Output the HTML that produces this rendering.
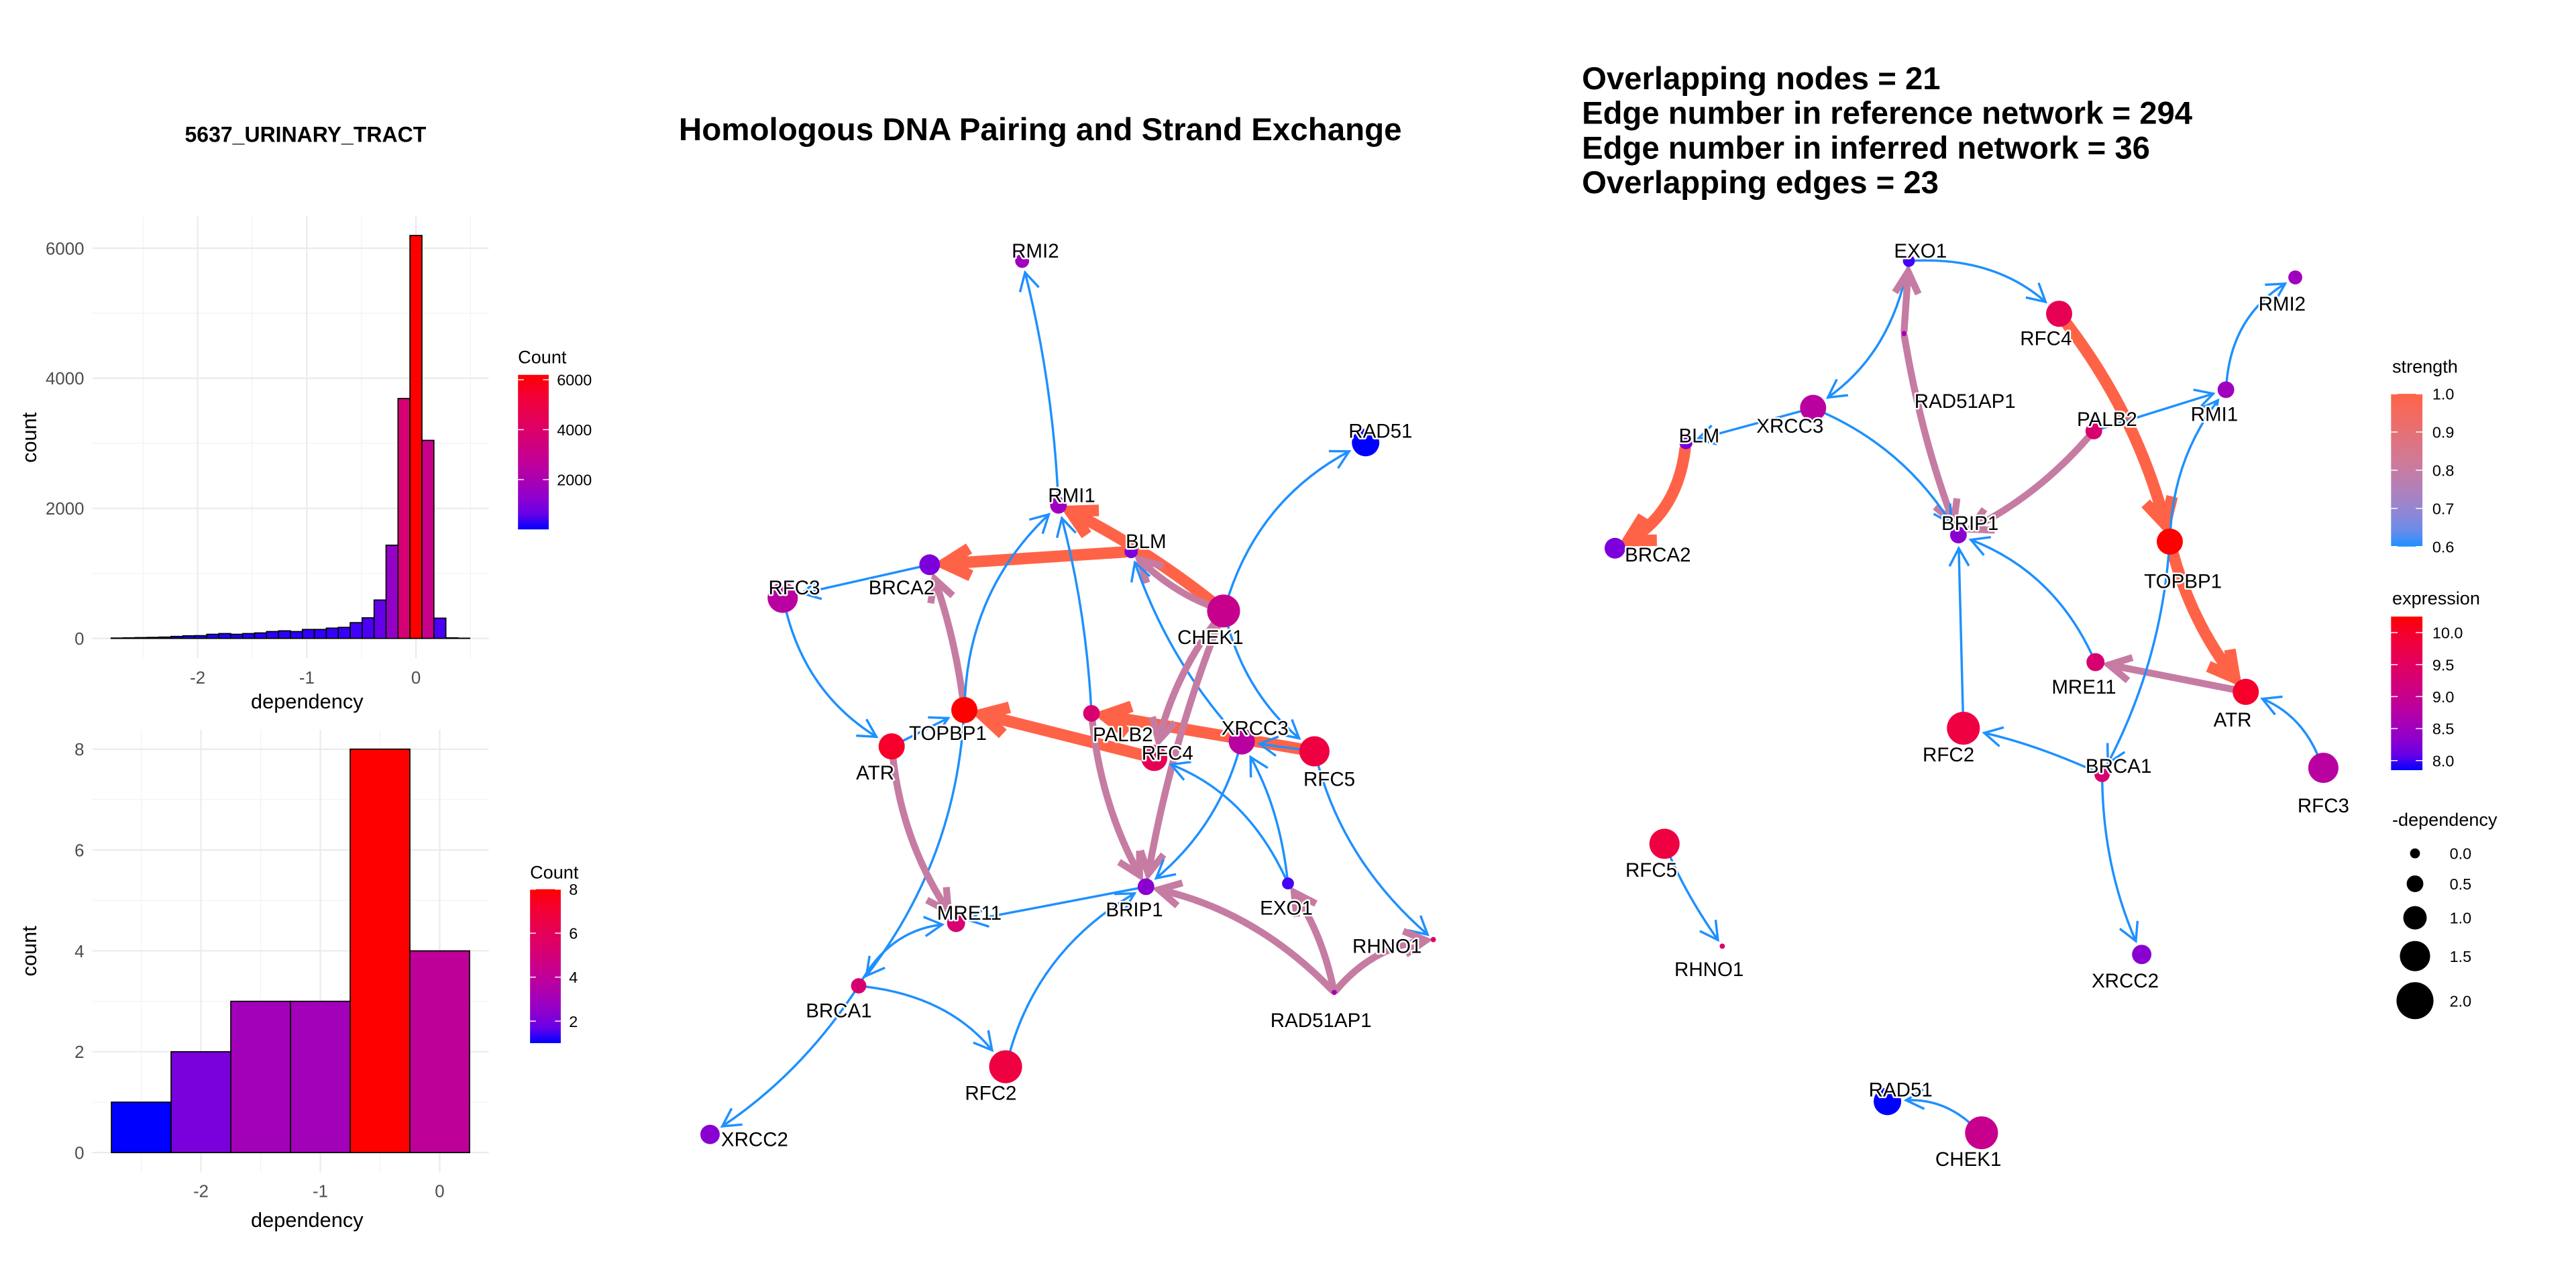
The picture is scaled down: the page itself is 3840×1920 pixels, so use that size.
<!DOCTYPE html>
<html><head><meta charset="utf-8">
<style>
html,body{margin:0;padding:0;background:#fff;}
svg{display:block;font-family:"Liberation Sans",Arial,sans-serif;}
.lbl{font-size:12px;fill:#000;stroke:#fff;stroke-width:2px;paint-order:stroke;stroke-linejoin:round;}
.tick{font-size:10.5px;fill:#4d4d4d;}
.axt{font-size:12.5px;fill:#000;}
.leg{font-size:9.5px;fill:#000;}
.legt{font-size:11px;fill:#000;}
</style></head>
<body>
<svg id="root" width="3840" height="1920" viewBox="0 0 1560 780" xmlns="http://www.w3.org/2000/svg">
<rect width="1560" height="780" fill="#fff"/>
<text x="185" y="86" text-anchor="middle" font-weight="bold" font-size="13">5637_URINARY_TRACT</text>
<text x="630" y="85" text-anchor="middle" font-weight="bold" font-size="19.3">Homologous DNA Pairing and Strand Exchange</text>
<g font-weight="bold" font-size="19.2">
<text x="958" y="54">Overlapping nodes = 21</text>
<text x="958" y="75">Edge number in reference network = 294</text>
<text x="958" y="96">Edge number in inferred network = 36</text>
<text x="958" y="117">Overlapping edges = 23</text>
</g>
<g id="h1"></g>
<g id="h2"></g>
<g id="n1"></g>
<g id="n2"></g>
<g id="lg"></g>
</svg>
<script>
// ---------- data ----------
const h1Counts = [5,8,12,15,20,30,40,42,63,74,63,74,84,105,116,105,137,137,158,169,242,316,590,1433,3688,6195,3045,311,8,3];
const h1XTicks = [-2,-1,0];
const h1YTicks = [0,2000,4000,6000];
const h1LegTicks = [2000,4000,6000];
const h2Centers = [-2.5,-2,-1.5,-1,-0.5,0];
const h2Counts = [1,2,3,3,8,4];
const h2XTicks = [-2,-1,0];
const h2YTicks = [0,2,4,6,8];
const h2LegTicks = [2,4,6,8];

const geneNames = ["RMI2","RMI1","BLM","RAD51","BRCA2","RFC3","CHEK1","TOPBP1","PALB2","ATR","RFC4","XRCC3","RFC5","MRE11","BRIP1","EXO1","RHNO1","RAD51AP1","BRCA1","RFC2","XRCC2"];
const geneExpr = [8.5,8.5,8.2,7.85,8.2,8.8,9.0,10.25,9.3,10.0,9.6,8.8,9.8,9.3,8.3,7.95,9.4,8.6,9.3,9.8,8.3];
const geneDep  = [0.3,0.5,0.25,1.3,0.8,1.5,1.7,1.2,0.5,1.2,1.2,1.2,1.5,0.6,0.5,0.15,-0.4,-0.4,0.4,1.7,0.7];

// middle network layout
const n1X = [619,641,685,827,563,474,741,584,661,540,699,752,796,579,694,780,868,808,520,609,430];
const n1Y = [158,306,334,268,342,362,370,430,432,452,459,449,455,559,537,535,569,601,597,646,687];
const n1LX = [627,649,694,836,546,481,733,574,680,530,707,760,805,587,687,779,840,800,508,600,457];
const n1LY = [152,300,328,261,356,356,386,444,445,468,456,441,472,553,551,550,573,618,612,662,690];
const n1From = ["RMI1","CHEK1","BLM","CHEK1","CHEK1","XRCC3","BRCA2","TOPBP1","TOPBP1","PALB2","RFC3","RFC4","RFC5","ATR","CHEK1","CHEK1","PALB2","CHEK1","RFC5","XRCC3","EXO1","EXO1","TOPBP1","ATR","BRIP1","BRCA1","BRCA1","RFC2","BRCA1","RFC5","RAD51AP1","RAD51AP1","RAD51AP1"];
const n1To   = ["RMI2","RAD51","BRCA2","RMI1","BLM","BLM","RFC3","BRCA2","RMI1","RMI1","ATR","TOPBP1","PALB2","TOPBP1","RFC4","BRIP1","BRIP1","RFC5","XRCC3","BRIP1","XRCC3","RFC4","BRCA1","MRE11","MRE11","MRE11","RFC2","BRIP1","XRCC2","RHNO1","BRIP1","EXO1","RHNO1"];
const n1Str  = [0.6,0.6,1.0,1.0,0.8,0.6,0.6,0.8,0.6,0.6,0.6,1.0,1.0,0.6,0.8,0.8,0.8,0.6,0.6,0.6,0.6,0.6,0.6,0.8,0.6,0.6,0.6,0.6,0.6,0.6,0.8,0.8,0.8];
const n1Curv = [0.05,-0.2,0,0.05,-0.1,-0.1,0,0.05,-0.2,0.05,0.2,0,0,0,0.1,0.05,0.1,0.15,0,-0.15,0.1,0.2,-0.15,0.12,0,-0.25,-0.2,-0.2,-0.1,0.15,0.15,0.1,-0.2];

// right network layout
const n2X = [1390,1348,1021,1143,978,1407,1200,1314,1268,1360,1247,1098,1008,1269,1186,1156,1043,1153,1273,1189,1297];
const n2Y = [168,236,268,667,332,465,686,328,261,419,190,247,511,401,324,158,573,202,469,441,578];
const n2LX = [1382,1341,1029,1151,1004,1407,1192,1322,1276,1352,1239,1084,1000,1262,1193,1163,1035,1190,1283,1180,1287];
const n2LY = [184,251,264,660,336,488,702,352,254,436,205,258,527,416,317,152,587,243,464,457,594];
const n2From = ["EXO1","EXO1","RAD51AP1","RAD51AP1","RFC4","PALB2","XRCC3","BLM","XRCC3","PALB2","TOPBP1","RMI1","TOPBP1","ATR","TOPBP1","MRE11","RFC2","BRCA1","BRCA1","RFC3","RFC5","CHEK1"];
const n2To   = ["RFC4","XRCC3","EXO1","BRIP1","TOPBP1","BRIP1","BRIP1","BRCA2","BLM","RMI1","RMI1","RMI2","ATR","MRE11","BRCA1","BRIP1","BRIP1","RFC2","XRCC2","ATR","RHNO1","RAD51"];
const n2Str  = [0.6,0.6,0.8,0.8,1.0,0.8,0.6,1.0,0.6,0.6,0.6,0.6,1.0,0.8,0.6,0.6,0.6,0.6,0.6,0.6,0.6,0.6];
const n2Curv = [-0.2,-0.2,0,0.05,-0.1,-0.1,-0.15,-0.25,0,0,-0.15,-0.25,0.1,0,-0.1,0.2,0,0.05,0.1,0.2,0.05,0.2];

const strTicks = [0.6,0.7,0.8,0.9,1.0];
const exprTicks = [8.0,8.5,9.0,9.5,10.0];
const depTicks = [0.0,0.5,1.0,1.5,2.0];

// ---------- helpers ----------
const NS="http://www.w3.org/2000/svg";
function mk(tag,attrs,parent,txt){const e=document.createElementNS(NS,tag);for(const k in attrs)e.setAttribute(k,attrs[k]);if(txt!==undefined)e.textContent=txt;parent.appendChild(e);return e;}
function lin(c){c/=255;return c<=0.04045?c/12.92:Math.pow((c+0.055)/1.055,2.4);}
function toLab(h){const r=lin(parseInt(h.substr(1,2),16)),g=lin(parseInt(h.substr(3,2),16)),b=lin(parseInt(h.substr(5,2),16));
const X=(0.4124*r+0.3576*g+0.1805*b)/0.95047,Y=0.2126*r+0.7152*g+0.0722*b,Z=(0.0193*r+0.1192*g+0.9505*b)/1.08883;
const f=t=>t>0.008856?Math.cbrt(t):7.787*t+16/116;return [116*f(Y)-16,500*(f(X)-f(Y)),200*(f(Y)-f(Z))];}
function fromLab(L,a,b){const fy=(L+16)/116,fx=fy+a/500,fz=fy-b/200;const fi=t=>t*t*t>0.008856?t*t*t:(t-16/116)/7.787;
const X=fi(fx)*0.95047,Y=fi(fy),Z=fi(fz)*1.08883;
let R=3.2406*X-1.5372*Y-0.4986*Z,G=-0.9689*X+1.8758*Y+0.0415*Z,B=0.0557*X-0.2040*Y+1.0570*Z;
const gm=c=>{c=c<=0.0031308?12.92*c:1.055*Math.pow(c,1/2.4)-0.055;return Math.round(Math.max(0,Math.min(1,c))*255);};
return "rgb("+gm(R)+","+gm(G)+","+gm(B)+")";}
function grad(lo,hi){const A=toLab(lo),B=toLab(hi);return t=>{t=Math.max(0,Math.min(1,t));return fromLab(A[0]+(B[0]-A[0])*t,A[1]+(B[1]-A[1])*t,A[2]+(B[2]-A[2])*t);};}
const blueRed=grad("#0000ff","#ff0000");
const strCol=grad("#1e90ff","#ff6347");

// ---------- histogram builder ----------
function histo(g,cfg){
  const xs=cfg.xs, ys=cfg.ys;
  cfg.xMinor.forEach(v=>{const l=mk("line",{x1:xs(v),x2:xs(v),y1:cfg.top,y2:cfg.bot,stroke:"#f2f2f2","stroke-width":0.5},g);
    
    });
  cfg.yMinor.forEach(v=>{const l=mk("line",{x1:cfg.left,x2:cfg.right,y1:ys(v),y2:ys(v),stroke:"#f2f2f2","stroke-width":0.5},g);
    
    });
  cfg.xTicks.forEach(v=>{const l=mk("line",{x1:xs(v),x2:xs(v),y1:cfg.top,y2:cfg.bot,stroke:"#ebebeb","stroke-width":0.9},g);
    
    
    const t=mk("text",{x:xs(v),y:cfg.xLabY,"text-anchor":"middle",class:"tick"},g,String(v));
    
    });
  cfg.yTicks.forEach(v=>{const l=mk("line",{x1:cfg.left,x2:cfg.right,y1:ys(v),y2:ys(v),stroke:"#ebebeb","stroke-width":0.9},g);
    
    
    const t=mk("text",{x:51,y:ys(v)+3.8,"text-anchor":"end",class:"tick"},g,String(v));
    
    });
  const mn=Math.min(...cfg.counts), mx=Math.max(...cfg.counts);
  cfg.counts.forEach((c,i)=>{const c0=cfg.centers[i];
    const x0=xs(c0-cfg.bw/2),x1=xs(c0+cfg.bw/2);
    const r=mk("rect",{x:x0,y:ys(c),width:x1-x0,height:Math.max(0.01,ys(0)-ys(c)),fill:blueRed((c-mn)/(mx-mn)),stroke:"#000","stroke-width":0.7},g);
    
    });
  const xt=mk("text",{x:(cfg.left+cfg.right)/2+10,y:cfg.xTitleY,"text-anchor":"middle",class:"axt"},g,"dependency");
  
  
  const yt=mk("text",{x:0,y:0,"text-anchor":"middle",class:"axt",transform:"translate(22,"+cfg.yTitleY+") rotate(-90)"},g,"count");
  
  
  const L=cfg.leg, gid="lg"+cfg.id;
  const defs=mk("defs",{},g); const lgd=mk("linearGradient",{id:gid,x1:0,y1:1,x2:0,y2:0},defs);
  for(let k=0;k<=10;k++)mk("stop",{offset:k/10,"stop-color":blueRed(k/10)},lgd);
  const lt=mk("text",{x:L.x,y:L.titleY,class:"legt"},g,"Count");
  
  
  const bar=mk("rect",{x:L.x,y:L.top,width:L.w,height:L.bot-L.top,fill:"url(#"+gid+")"},g);
  
  
  const ly=v=>L.bot-(v-mn)/(mx-mn)*(L.bot-L.top);
  cfg.legTicks.forEach(v=>{
    mk("line",{x1:L.x,x2:L.x+3.5,y1:ly(v),y2:ly(v),stroke:"#fff","stroke-width":0.6},g);
    mk("line",{x1:L.x+L.w-3.5,x2:L.x+L.w,y1:ly(v),y2:ly(v),stroke:"#fff","stroke-width":0.6},g);
    const t=mk("text",{x:L.x+L.w+5,y:ly(v)+3.5,class:"leg"},g,String(v));
    
    });
}
const bw1=0.1095;
histo(document.getElementById("h1"),{id:1,counts:h1Counts,centers:h1Counts.map((_,i)=>(i-25)*bw1),bw:bw1,
  xs:v=>251.9+v*66.1, ys:c=>386.6-c*236.3/6000, left:56,right:296,top:131,bot:398.6,
  xTicks:h1XTicks,yTicks:h1YTicks,xMinor:[-2.5,-1.5,-0.5,0.5],yMinor:[1000,3000,5000],
  xLabY:414,xTitleY:429,yTitleY:265,legTicks:h1LegTicks,
  leg:{x:313.7,w:18.6,top:227,bot:320.6,titleY:220}});
histo(document.getElementById("h2"),{id:2,counts:h2Counts,centers:h2Centers,bw:0.5,
  xs:v=>266.3+v*72.3, ys:c=>698-c*30.54, left:56,right:296,top:442,bot:710,
  xTicks:h2XTicks,yTicks:h2YTicks,xMinor:[-2.5,-1.5,-0.5],yMinor:[1,3,5,7],
  xLabY:725,xTitleY:743,yTitleY:576,legTicks:h2LegTicks,
  leg:{x:321,w:18.6,top:538.5,bot:631.7,titleY:532}});

// ---------- network builder ----------
const eMin=7.85,eMax=10.25;
const rad=d=>Math.max(1.6,3+d*4.1);
function network(g,X,Y,LX,LY,F,T,S,C){
  const idx=n=>geneNames.indexOf(n);
  const eg=mk("g",{},g);  
  F.forEach((fn,i)=>{
    const a=idx(fn),b=idx(T[i]);
    const x0=X[a],y0=Y[a],x1=X[b],y1=Y[b];
    const dx=x1-x0,dy=y1-y0;
    const cx=(x0+x1)/2+(-dy)*C[i],cy=(y0+y1)/2+dx*C[i];
    const r0=rad(geneDep[a]),r1=rad(geneDep[b])+3;
    let ux=cx-x0,uy=cy-y0,ul=Math.hypot(ux,uy);const sx=x0+ux/ul*r0,sy=y0+uy/ul*r0;
    let vx=cx-x1,vy=cy-y1,vl=Math.hypot(vx,vy);const ex=x1+vx/vl*r1,ey=y1+vy/vl*r1;
    const s=S[i],w=1.4+(s-0.6)/0.4*5.6,col=strCol((s-0.6)/0.4);
    const p=mk("path",{d:`M${sx},${sy} Q${cx},${cy} ${ex},${ey}`,fill:"none",stroke:col,"stroke-width":w,"stroke-linecap":"round"},eg);
    
    
    let ax=ex-cx,ay=ey-cy,al=Math.hypot(ax,ay);ax/=al;ay/=al;
    const hl=11+w*0.9,ang=0.5;
    const c=Math.cos(ang),sn=Math.sin(ang);
    const p1x=ex-hl*(ax*c-ay*sn),p1y=ey-hl*(ay*c+ax*sn);
    const p2x=ex-hl*(ax*c+ay*sn),p2y=ey-hl*(ay*c-ax*sn);
    const h=mk("polyline",{points:`${p1x},${p1y} ${ex},${ey} ${p2x},${p2y}`,fill:"none",stroke:col,"stroke-width":w,"stroke-linejoin":"miter"},eg);
    
    
  });
  geneNames.forEach((n,i)=>{
    const c=mk("circle",{cx:X[i],cy:Y[i],r:rad(geneDep[i]),fill:blueRed((geneExpr[i]-eMin)/(eMax-eMin))},g);
    
    
  });
  geneNames.forEach((n,i)=>{
    const t=mk("text",{x:LX[i],y:LY[i]+4,"text-anchor":"middle",class:"lbl"},g,n);
    
    
  });
}
network(document.getElementById("n1"),n1X,n1Y,n1LX,n1LY,n1From,n1To,n1Str,n1Curv);
network(document.getElementById("n2"),n2X,n2Y,n2LX,n2LY,n2From,n2To,n2Str,n2Curv);

// ---------- network legend ----------
(function(){
  const g=document.getElementById("lg");const defs=mk("defs",{},g);
  function bar(id,fn,top,bot,title,titleY,ticks,lo,hi){
    const lg=mk("linearGradient",{id:id,x1:0,y1:1,x2:0,y2:0},defs);
    for(let k=0;k<=10;k++)mk("stop",{offset:k/10,"stop-color":fn(k/10)},lg);
    const tt=mk("text",{x:1448.7,y:titleY+4,class:"legt"},g,title);
    
    
    const r=mk("rect",{x:1448,y:top,width:19,height:bot-top,fill:"url(#"+id+")"},g);
    
    
    ticks.forEach(v=>{const y=bot-(v-lo)/(hi-lo)*(bot-top);
      mk("line",{x1:1448,x2:1452,y1:y,y2:y,stroke:"#fff","stroke-width":0.6},g);
      mk("line",{x1:1463,x2:1467,y1:y,y2:y,stroke:"#fff","stroke-width":0.6},g);
      const t=mk("text",{x:1473,y:y+3.5,class:"leg"},g,v.toFixed(1));
      
      });
  }
  bar("gs",strCol,238.5,331,"strength",221.6,strTicks,0.6,1.0);
  bar("ge",blueRed,373.4,466.4,"expression",362,exprTicks,eMin,eMax);
  const dt=mk("text",{x:1448.7,y:500,class:"legt"},g,"-dependency");
  
  
  const ys=[516.8,535.2,555.8,579,606];
  depTicks.forEach((v,i)=>{
    const c=mk("circle",{cx:1462.5,cy:ys[i],r:rad(v),fill:"#000"},g);
    
    
    const t=mk("text",{x:1483.5,y:ys[i]+3.5,class:"leg"},g,v.toFixed(1));
    
    });
})();
</script>
</body></html>
